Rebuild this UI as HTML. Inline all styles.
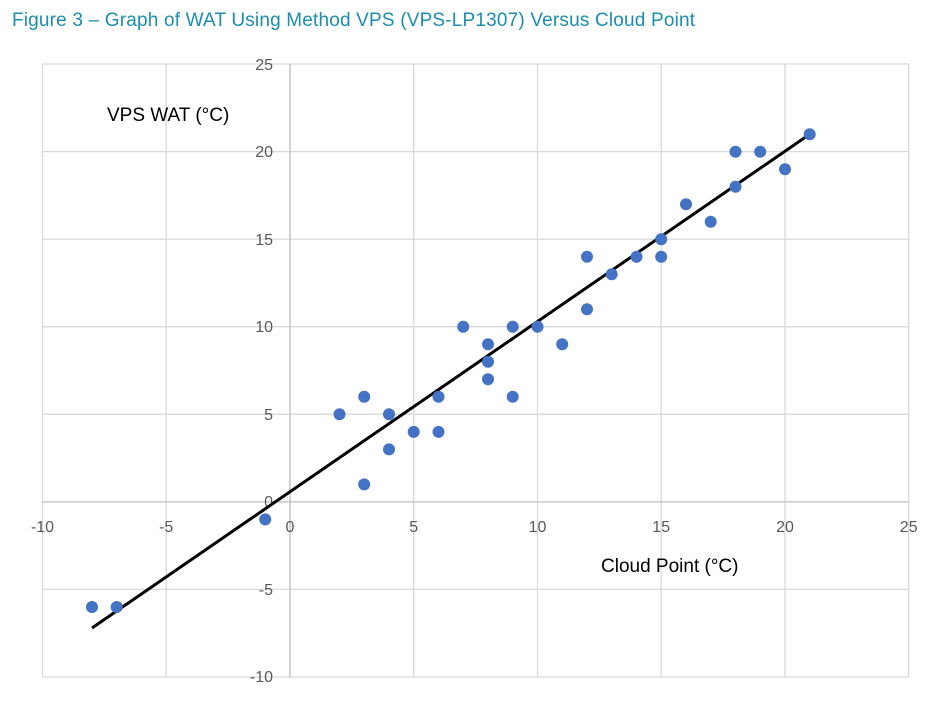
<!DOCTYPE html>
<html><head><style>
body{margin:0;background:#fff;width:933px;height:697px;overflow:hidden}
</style></head><body>
<svg width="933" height="697" xmlns="http://www.w3.org/2000/svg" font-family="Liberation Sans, sans-serif">
<text x="12" y="26" font-size="19" fill="#1b8db0" textLength="683">Figure 3 – Graph of WAT Using Method VPS (VPS-LP1307) Versus Cloud Point</text>
<g stroke="#d9d9d9" stroke-width="1.3">
<line x1="42.5" y1="64" x2="42.5" y2="677"/><line x1="166.2" y1="64" x2="166.2" y2="677"/>
<line x1="290" y1="64" x2="290" y2="677"/><line x1="413.7" y1="64" x2="413.7" y2="677"/>
<line x1="537.5" y1="64" x2="537.5" y2="677"/><line x1="661.2" y1="64" x2="661.2" y2="677"/>
<line x1="785" y1="64" x2="785" y2="677"/><line x1="908.7" y1="64" x2="908.7" y2="677"/>
<line x1="42.5" y1="64" x2="908.7" y2="64"/><line x1="42.5" y1="151.6" x2="908.7" y2="151.6"/>
<line x1="42.5" y1="239.1" x2="908.7" y2="239.1"/><line x1="42.5" y1="326.7" x2="908.7" y2="326.7"/>
<line x1="42.5" y1="414.3" x2="908.7" y2="414.3"/><line x1="42.5" y1="589.4" x2="908.7" y2="589.4"/>
<line x1="42.5" y1="677" x2="908.7" y2="677"/>
</g>
<line x1="42.5" y1="501.9" x2="908.7" y2="501.9" stroke="#bfbfbf" stroke-width="1.3"/>
<line x1="290" y1="64" x2="290" y2="677" stroke="#bfbfbf" stroke-width="1.3"/>
<g font-size="16" fill="#595959" text-anchor="end">
<text x="273" y="70">25</text><text x="273" y="157">20</text><text x="273" y="245">15</text>
<text x="273" y="332">10</text><text x="273" y="420">5</text><text x="273" y="507">0</text>
<text x="273" y="595">-5</text><text x="273" y="682">-10</text>
</g>
<g font-size="16" fill="#595959" text-anchor="middle">
<text x="42.5" y="532">-10</text><text x="166.2" y="532">-5</text><text x="290" y="532">0</text>
<text x="413.7" y="532">5</text><text x="537.5" y="532">10</text><text x="661.2" y="532">15</text>
<text x="785" y="532">20</text><text x="908.7" y="532">25</text>
</g>
<text x="107" y="121" font-size="19" fill="#000">VPS WAT (°C)</text>
<text x="601" y="572" font-size="19" fill="#000">Cloud Point (°C)</text>
<line x1="92" y1="628" x2="810" y2="134" stroke="#000" stroke-width="3"/>
<g fill="#4472c4">
<circle cx="92" cy="607" r="6"/><circle cx="116.7" cy="607" r="6"/><circle cx="265.2" cy="519.4" r="6"/>
<circle cx="339.5" cy="414.3" r="6"/><circle cx="364.2" cy="396.8" r="6"/><circle cx="364.2" cy="484.4" r="6"/>
<circle cx="389" cy="414.3" r="6"/><circle cx="389" cy="449.4" r="6"/><circle cx="413.7" cy="431.9" r="6"/>
<circle cx="438.5" cy="396.8" r="6"/><circle cx="438.5" cy="431.9" r="6"/><circle cx="463.2" cy="326.8" r="6"/>
<circle cx="488" cy="344.3" r="6"/><circle cx="488" cy="361.8" r="6"/><circle cx="488" cy="379.3" r="6"/>
<circle cx="512.7" cy="326.8" r="6"/><circle cx="512.7" cy="396.8" r="6"/><circle cx="537.5" cy="326.8" r="6"/>
<circle cx="562.2" cy="344.3" r="6"/><circle cx="587" cy="256.8" r="6"/><circle cx="587" cy="309.3" r="6"/>
<circle cx="611.7" cy="274.3" r="6"/><circle cx="636.5" cy="256.8" r="6"/><circle cx="661.2" cy="239.2" r="6"/>
<circle cx="661.2" cy="256.8" r="6"/><circle cx="686" cy="204.2" r="6"/><circle cx="710.7" cy="221.7" r="6"/>
<circle cx="735.5" cy="151.7" r="6"/><circle cx="735.5" cy="186.7" r="6"/><circle cx="760.2" cy="151.7" r="6"/>
<circle cx="785" cy="169.2" r="6"/><circle cx="809.7" cy="134.2" r="6"/>
</g>
</svg>
</body></html>
